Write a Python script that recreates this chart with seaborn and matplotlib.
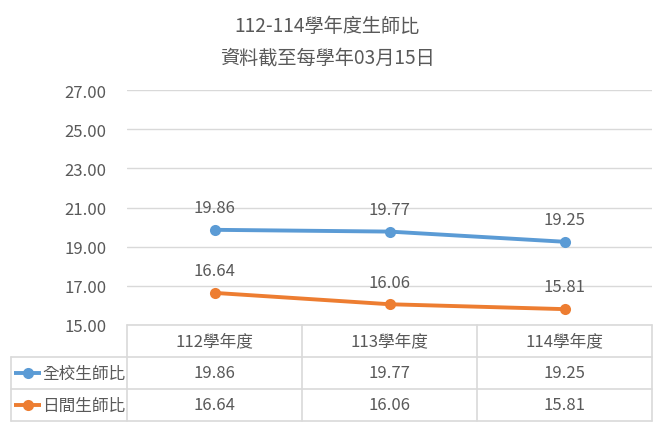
import matplotlib
matplotlib.use("Agg")
import matplotlib.pyplot as plt
import seaborn as sns
import pandas as pd

sns.set_theme(style="white")
plt.rcParams['font.family'] = ['Noto Sans CJK TC', 'DejaVu Sans']

title_lines = ["112-114學年度生師比", "資料截至每學年03月15日"]
categories = ["112學年度", "113學年度", "114學年度"]
series_names = ["全校生師比", "日間生師比"]
whole_school = [19.86, 19.77, 19.25]
day_school = [16.64, 16.06, 15.81]
y_ticks = [15, 17, 19, 21, 23, 25, 27]

colors = ["#5B9BD5", "#ED7D31"]
text_color = "#595959"
grid_color = "#D9D9D9"
fs = 12

W, H = 656, 431
fig = plt.figure(figsize=(W / 100, H / 100), dpi=100)

# plot area in pixel coords
px_left, px_right, px_top, px_bottom = 127, 652, 91, 326
ax = fig.add_axes([px_left / W, 1 - px_bottom / H, (px_right - px_left) / W, (px_bottom - px_top) / H])

df = pd.DataFrame({
    "cat": categories * 2,
    "x": list(range(len(categories))) * 2,
    "value": whole_school + day_school,
    "series": [series_names[0]] * 3 + [series_names[1]] * 3,
})
sns.lineplot(data=df, x="x", y="value", hue="series", palette=colors,
             marker="o", markersize=8, markeredgewidth=0, linewidth=2.8,
             legend=False, ax=ax, zorder=3)

ax.set_xlim(-0.5, len(categories) - 0.5)
ax.set_ylim(min(y_ticks), max(y_ticks))
ax.set_yticks(y_ticks)
ax.set_yticklabels([f"{t:.2f}" for t in y_ticks], color=text_color, fontsize=fs)
ax.tick_params(axis="y", length=0, pad=15)
ax.set_xticks([])
ax.set_xlabel("")
ax.set_ylabel("")
for s in ax.spines.values():
    s.set_visible(False)
ax.yaxis.grid(True, color=grid_color, linewidth=1)
ax.set_axisbelow(True)

for vals in (whole_school, day_school):
    for i, v in enumerate(vals):
        ax.annotate(f"{v:.2f}", (i, v), xytext=(0, 16), textcoords="offset points",
                    ha="center", va="center", fontsize=fs, color=text_color)

# overlay for titles and the data table, in pixel coordinates
ov = fig.add_axes([0, 0, 1, 1], facecolor="none")
ov.set_xlim(0, W)
ov.set_ylim(H, 0)
ov.axis("off")

ov.text(327, 27, title_lines[0], ha="center", va="center", fontsize=13.8, color=text_color)
ov.text(327, 58, title_lines[1], ha="center", va="center", fontsize=13.8, color=text_color)

col_edges = [127, 302, 477, 652]
row_edges = [326, 358, 390, 422]
legend_left = 11
lc = dict(color=grid_color, linewidth=1.2)
ov.plot([col_edges[0], col_edges[-1]], [row_edges[0], row_edges[0]], **lc)
for yv in row_edges[1:]:
    ov.plot([legend_left, col_edges[-1]], [yv, yv], **lc)
ov.plot([legend_left, legend_left], [row_edges[1], row_edges[-1]], **lc)
for xv in col_edges:
    ov.plot([xv, xv], [row_edges[0], row_edges[-1]], **lc)

col_centers = [(col_edges[i] + col_edges[i + 1]) / 2 for i in range(3)]
hdr_y = (row_edges[0] + row_edges[1]) / 2
for cx, c in zip(col_centers, categories):
    ov.text(cx, hdr_y, c, ha="center", va="center", fontsize=fs, color=text_color)

for r, (name, vals, col) in enumerate(zip(series_names, (whole_school, day_school), colors)):
    yc = (row_edges[r + 1] + row_edges[r + 2]) / 2
    ov.plot([14, 41], [yc, yc], color=col, linewidth=2.8, solid_capstyle="butt")
    ov.plot([27.5], [yc], marker="o", markersize=8, markeredgewidth=0, color=col)
    ov.text(42, yc, name, ha="left", va="center", fontsize=fs, color=text_color)
    for cx, v in zip(col_centers, vals):
        ov.text(cx, yc, f"{v:.2f}", ha="center", va="center", fontsize=fs, color=text_color)

fig.savefig("out.png", dpi=100)
